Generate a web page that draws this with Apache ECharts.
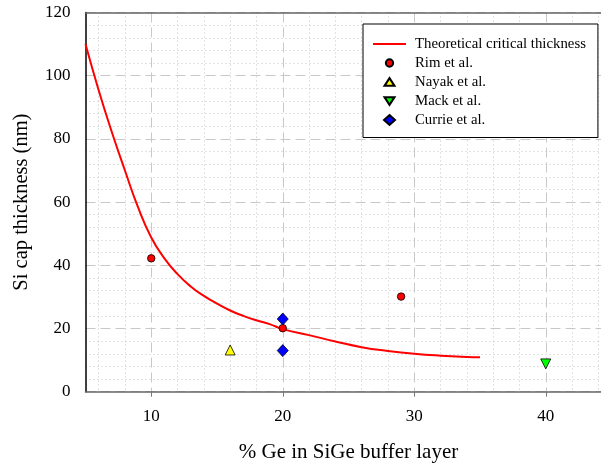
<!DOCTYPE html>
<html>
<head>
<meta charset="utf-8">
<script src="https://cdn.jsdelivr.net/npm/echarts@6/dist/echarts.min.js"></script>
<style>
html,body{margin:0;padding:0;background:#fff;}
#main{width:601px;height:464px;}
</style>
</head>
<body>
<div id="main"></div>
<script>
// ---- data ----
var curveX = [5, 6, 7, 8, 9, 10, 11, 12, 13, 14, 15, 16, 17, 18, 19, 20, 22, 24, 26, 28, 30, 32, 34, 35];
var curveY = [110, 95.4, 82.2, 70, 58.3, 48.8, 42.2, 37.2, 33.3, 30.3, 27.9, 25.7, 24.0, 22.6, 21.4, 19.8, 17.9, 15.9, 14.1, 12.9, 12.0, 11.4, 11.0, 10.9];
var rimX = [10, 20, 29];
var rimY = [42.2, 20.1, 30.1];
var nayakX = [16];
var nayakY = [13.2];
var mackX = [40];
var mackY = [8.8];
var currieX = [20, 20];
var currieY = [23, 13];
var xTickLabels = [10, 20, 30, 40];
var yTickLabels = [0, 20, 40, 60, 80, 100, 120];
var seriesNames = ['Theoretical critical thickness', 'Rim et al.', 'Nayak et al.', 'Mack et al.', 'Currie et al.'];
var xName = '% Ge in SiGe buffer layer';
var yName = 'Si cap thickness (nm)';

function pairs(xs, ys) { return xs.map(function (x, i) { return [x, ys[i]]; }); }

var xMin = 5, xMax = 45;
var yMin = yTickLabels[0], yMax = yTickLabels[yTickLabels.length - 1];
var minorX = [];
for (var v = 6; v < xMax; v += 2) { if (v % 10 !== 0) minorX.push(v); }

var legendIcons = [
  'path://M0,0 L33,0 L33,2 L0,2 Z',
  'path://M0,0 M11,11 M5.5,1.85 A3.65,3.65 0 1 1 5.499,1.85 Z',
  'path://M0,0 M11,11 M5.5,1.65 L10.5,9.35 L0.5,9.35 Z',
  'path://M0,0 M11,11 M0.5,1.65 L10.5,1.65 L5.5,9.35 Z',
  'path://M0,0 M11,11 M5.5,0.5 L11,5.5 L5.5,10.5 L0,5.5 Z'
];

var serif = 'Liberation Serif';
var chart = echarts.init(document.getElementById('main'), null, {renderer: 'canvas'});
chart.setOption({
  animation: false,
  backgroundColor: '#ffffff',
  grid: {left: 85.5, width: 526, top: 12.5, height: 379.2, containLabel: false, outerBoundsMode: 'none'},
  legend: {
    left: 363, top: 24,
    orient: 'vertical',
    backgroundColor: '#ffffff',
    borderColor: '#000000', borderWidth: 1,
    padding: [12.5, 12, 10, 10],
    itemWidth: 33, itemHeight: 11, itemGap: 4,
    symbolKeepAspect: true,
    textStyle: {fontFamily: serif, fontSize: 14.8, lineHeight: 15, color: '#000', padding: [0, 0, 0, 4]},
    data: seriesNames.map(function (n, i) { return {name: n, icon: legendIcons[i]}; })
  },
  xAxis: [{
    type: 'value', min: xMin, max: xMax,
    name: xName, nameLocation: 'middle', nameGap: 50,
    nameTextStyle: {fontFamily: serif, fontSize: 21, color: '#000'},
    axisLine: {show: true, lineStyle: {color: '#666', width: 1.5}},
    axisTick: {show: true, customValues: xTickLabels, length: 5, lineStyle: {color: '#777'}},
    axisLabel: {customValues: xTickLabels, fontFamily: serif, fontSize: 17, color: '#000', margin: 16},
    splitLine: {show: true, lineStyle: {color: '#c8c8c8', type: [10, 5], width: 1}}
  }, {
    type: 'value', min: xMin, max: xMax, position: 'top',
    axisLine: {show: true, onZero: false, lineStyle: {color: '#666', width: 1.5}},
    axisTick: {show: false, customValues: minorX},
    axisLabel: {show: false, customValues: minorX},
    splitLine: {show: true, lineStyle: {color: '#c4c4c4', type: [1, 3], width: 1}}
  }],
  yAxis: {
    type: 'value', min: yMin, max: yMax, interval: 20,
    name: yName, nameLocation: 'middle', nameGap: 53,
    nameTextStyle: {fontFamily: serif, fontSize: 20.5, color: '#000'},
    axisLine: {show: true, lineStyle: {color: '#000', width: 1.5}},
    axisTick: {show: false},
    axisLabel: {fontFamily: serif, fontSize: 17, color: '#000', margin: 15},
    splitLine: {show: true, lineStyle: {color: '#c8c8c8', type: [10, 5], width: 1}},
    minorTick: {show: false, splitNumber: 5},
    minorSplitLine: {show: true, lineStyle: {color: '#c4c4c4', type: [1, 3], width: 1}}
  },
  series: [{
    name: seriesNames[0], type: 'line', smooth: 0.5, symbol: 'none',
    data: pairs(curveX, curveY),
    lineStyle: {color: '#ff0000', width: 2},
    itemStyle: {color: '#ff0000', borderWidth: 0}, z: 3
  }, {
    name: seriesNames[1], type: 'scatter', symbol: 'circle', symbolSize: 7.5,
    data: pairs(rimX, rimY),
    itemStyle: {color: '#ff0000', borderColor: '#000', borderWidth: 0.8, opacity: 1}, z: 4
  }, {
    name: seriesNames[2], type: 'scatter', symbol: 'triangle', symbolSize: 10,
    data: pairs(nayakX, nayakY),
    itemStyle: {color: '#ffff00', borderColor: '#000', borderWidth: 0.8, opacity: 1}, z: 4
  }, {
    name: seriesNames[3], type: 'scatter', symbol: 'triangle', symbolRotate: 180, symbolSize: 10,
    data: pairs(mackX, mackY),
    itemStyle: {color: '#00ff00', borderColor: '#000', borderWidth: 0.8, opacity: 1}, z: 4
  }, {
    name: seriesNames[4], type: 'scatter', symbol: 'diamond', symbolSize: [11, 12],
    data: pairs(currieX, currieY),
    itemStyle: {color: '#0000ff', borderColor: '#000', borderWidth: 0.8, opacity: 1}, z: 5
  }]
});
</script>
</body>
</html>
